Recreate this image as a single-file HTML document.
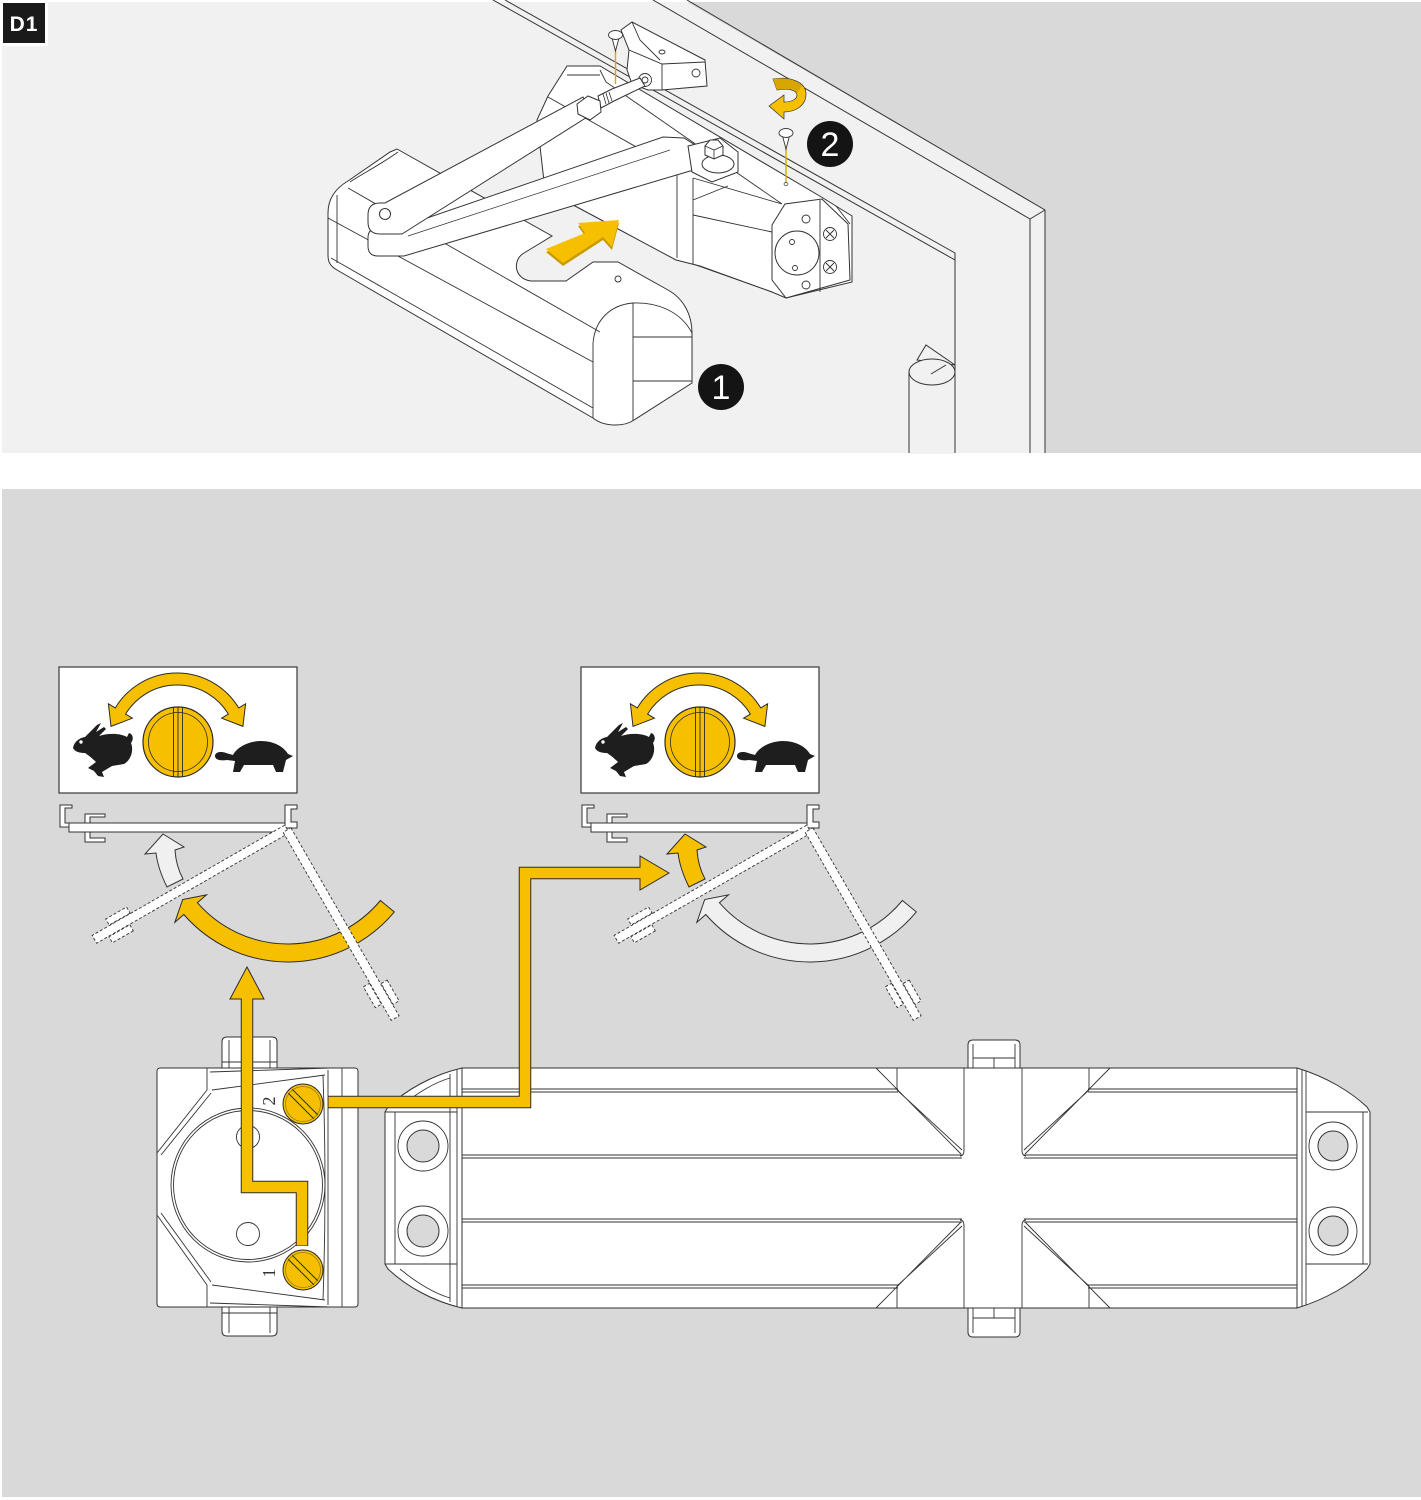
<!DOCTYPE html>
<html><head><meta charset="utf-8"><style>
html,body{margin:0;padding:0;background:#fff;}
svg{display:block;}
</style></head><body>
<svg width="1421" height="1500" viewBox="0 0 1421 1500" xmlns="http://www.w3.org/2000/svg">
<defs>
<g id="dtop">
  <rect x="59" y="667" width="238" height="126" fill="#fff" stroke="#3a3a3a" stroke-width="1.2"/>
  <path d="M108.4,703.8 L115.3,707.9 A72,72 0 0 1 238.7,707.9 L245.6,703.8 L242.9,726.4 L221.6,718.2 L228.4,714.1 A60,60 0 0 0 125.6,714.1 L132.4,718.2 L111,726.4 Z" fill="#f6c000" stroke="#2b2b2b" stroke-width="1"/>
  <circle cx="178" cy="742" r="35" fill="#f6c000" stroke="#2b2b2b" stroke-width="1.2"/>
  <circle cx="178" cy="742" r="29.5" fill="none" stroke="#2b2b2b" stroke-width="0.8"/>
  <path d="M173.5,707.5 L173.5,776.5 M182.5,707.5 L182.5,776.5 M178,707 L178,777" stroke="#2b2b2b" stroke-width="0.9" fill="none"/>
  <path d="M73,748 C74,742 79,738 85,737 L97,725 L101,723 L96,732 L104,727 L106,729 L99,736 C108,733 120,733 127,737 L129,733 C133,734 134,739 131,743 C134,750 131,760 124,764 L112,766 L102,772 L104,777 L98,776 L94,771 L88,768 L96,762 C92,758 88,755 85,753 C80,753 75,752 73,748 Z" fill="#1e1e1e"/>
  <circle cx="81" cy="742" r="1.7" fill="#fff"/>
  <path d="M215,756 C215,752 221,751 226,753 L233,755 C237,747 249,741 261,741 C274,741 284,747 288,754 L293,756 L286,760 L283,772 L276,772 L273,765 L244,765 L240,772 L233,772 L235,761 L227,760 C221,761 215,760 215,756 Z" fill="#1e1e1e"/>
  <polygon points="60,805 72,805 72,808 65,808 65,823 72,823 72,827 60,827" fill="#fff" stroke="#333" stroke-width="1"/>
  <polygon points="285,805 297,805 297,809 291,809 291,822 297,822 297,828 285,828" fill="#fff" stroke="#333" stroke-width="1"/>
  <polygon points="85,814 105,814 105,817 90,817 90,838 105,838 105,842 85,842" fill="#fff" stroke="#333" stroke-width="1"/>
  <rect x="69" y="823" width="216" height="9" fill="#fff" stroke="#333" stroke-width="1"/>
</g>
<g id="ddoors" fill="#fff" stroke="#333" stroke-width="0.9" stroke-dasharray="3 2">
  <g transform="translate(287,829) rotate(150.2)">
    <rect x="0" y="-4.5" width="222" height="9"/>
    <rect x="178" y="5" width="24" height="7"/>
    <rect x="184" y="-12" width="24" height="7"/>
  </g>
  <g transform="translate(287,830) rotate(60.1)">
    <rect x="0" y="-4.5" width="217" height="9"/>
    <rect x="174" y="5" width="24" height="7"/>
    <rect x="180" y="-12" width="24" height="7"/>
  </g>
</g>
</defs>

<rect width="1421" height="1500" fill="#fff"/>

<!-- ===== TOP PANEL ===== -->
<rect x="2" y="2" width="1419" height="451" fill="#f1f1f1"/>
<polygon points="687,2 1421,2 1421,453 1045,453 1045,210" fill="#d9d9d9"/>
<g fill="none" stroke="#333" stroke-width="1">
  <path d="M687,0 L1045,210 L1045,453 M653,0 L1030,219 L1030,453 M1030,219 L1045,210"/>
  <path d="M493,0 L955,260 M505,0 L955,253 L955,453"/>
</g>
<!-- hinge -->
<path d="M917,360 L926,345 L955,365 Z" fill="#f1f1f1" stroke="#333"/>
<rect x="909" y="372" width="46" height="82" fill="#f1f1f1"/>
<path d="M909,372 V453 M955,372 V453" stroke="#333" fill="none"/>
<ellipse cx="932" cy="372" rx="23" ry="13" fill="#f1f1f1" stroke="#333"/>
<path d="M931,374 L946,365" stroke="#333"/>

<!-- mounted closer -->
<path d="M537,120 L548,96 L567,66 L600,66 L823,198 L852,216 L852,282 L786,298 L772,292 L700,266 L676,260 L620,230 L545,190 Z" fill="#fff" stroke="#333"/>
<path d="M567,75 L600,75 M548,97 L677,170 M600,70 L606,82 L782,204 M677,170 V258 M693,178 V264 M693,178 L782,204 M693,215 L772,232 M693,264 L772,292 M693,200 L728,186" fill="none" stroke="#333" stroke-width="0.9"/>
<path d="M772,225 L785,204 L822,199 L848,224 L850,280 L786,298 L772,280 Z" fill="#fff" stroke="#333"/>
<circle cx="797" cy="253" r="22" fill="#fff" stroke="#333"/>
<g fill="none" stroke="#333" stroke-width="0.9">
  <circle cx="806" cy="219" r="4"/><circle cx="806" cy="285" r="4"/>
  <circle cx="792" cy="242" r="2.5"/><circle cx="795" cy="268" r="2.5"/>
  <path d="M820,200 L820,292 M836,206 L850,224"/>
  <circle cx="830" cy="234" r="6.5"/><circle cx="830" cy="267" r="6.5"/>
  <path d="M826,230 L834,238 M834,230 L826,238 M826,263 L834,271 M834,263 L826,271"/>
</g>
<!-- shoe bracket + rod -->
<path d="M621,30 L632,22 L705,60 L707,86 L662,90 L648,90 L632,84 L627,70 L629,50 Z" fill="#fff" stroke="#333"/>
<g fill="none" stroke="#333" stroke-width="0.9">
  <path d="M629,50 L662,64 L705,62 M662,64 L662,90 M632,22 L640,40 L660,60"/>
  <circle cx="645" cy="80" r="6.5"/><circle cx="645" cy="80" r="3"/>
  <ellipse cx="662" cy="52" rx="3" ry="2"/><circle cx="696" cy="73" r="4"/>
</g>
<path d="M598,96 L612,89 L640,78 L645,86 L614,101 L601,108 Z" fill="#fff" stroke="#333"/>
<path d="M603,94 L606,104 M606,93 L609,103 M609,92 L612,101" stroke="#333" stroke-width="0.8"/>

<!-- cover body -->
<path d="M397,149 L552,236 L524,253 C512,260 514,279 531,281 L566,281 L593,262 L618,262 L668,290 C684,299 692,315 692,333 L692,383 L634,420 C624,427 604,427 593,418 L337,270 C330,266 328,262 328,255 L328,213 C328,198 336,188 348,181 L390,152 Z" fill="#fff" stroke="#333" stroke-width="1"/>
<g fill="none" stroke="#333" stroke-width="0.9">
  <path d="M348,188 L600,332 M328,218 L593,362 M331,258 L593,408"/>
  <path d="M337,195 L337,263"/>
  <path d="M593,343 C595,320 610,305 633,303 C655,302 680,310 692,333"/>
  <path d="M593,343 L593,418 M633,303 L633,421 M633,337 L692,337 M633,381 L692,381"/>
  <path d="M398,152 C380,165 360,175 350,182"/>
  <circle cx="618" cy="279" r="3"/>
</g>

<!-- arms -->
<path d="M404,256 L690,171 L702,170 L700,148 L684,138 L663,137 L398,228 L378,228 Q368,228 368,238 L368,246 Q368,256 378,256 Z" fill="#fff" stroke="#333"/>
<path d="M402,234 L592,114 L583,97 L385,203 L380,203 Q368,203 368,215 L368,222 Q368,234 380,234 Z" fill="#fff" stroke="#333"/>
<circle cx="385" cy="214" r="5.5" fill="#fff" stroke="#333"/>
<path d="M408,236 L670,150" stroke="#333" stroke-width="0.7" fill="none"/>
<polygon points="577,104 588,96 600,101 601,112 590,120 578,114" fill="#fff" stroke="#333"/>
<!-- pivot -->
<path d="M688,146 L720,138 L738,152 L738,172 L712,182 L692,172 Z" fill="#fff" stroke="#333"/>
<ellipse cx="718" cy="164" rx="16" ry="9" fill="#fff" stroke="#333"/>
<polygon points="705,146 710,140 718,140 723,146 723,155 714,159 705,155" fill="#fff" stroke="#333"/>
<path d="M705,146 L714,150 L723,146 M714,150 L714,159" stroke="#333" stroke-width="0.8" fill="none"/>

<!-- screws -->
<line x1="615.5" y1="50" x2="615.5" y2="84" stroke="#e0a800" stroke-width="1.4"/>
<polygon points="612,38 619,38 615.5,51" fill="#fff" stroke="#333" stroke-width="0.9"/>
<ellipse cx="615.5" cy="35" rx="7" ry="4.5" fill="#fff" stroke="#333" stroke-width="0.9"/>
<line x1="786" y1="148" x2="786" y2="183" stroke="#e0a800" stroke-width="1.4"/>
<polygon points="782.5,136 789.5,136 786,149" fill="#fff" stroke="#333" stroke-width="0.9"/>
<ellipse cx="786" cy="133" rx="7" ry="4.5" fill="#fff" stroke="#333" stroke-width="0.9"/>
<ellipse cx="786" cy="184" rx="2" ry="1.5" fill="#fff" stroke="#333" stroke-width="0.7"/>

<!-- yellow arrows top -->
<polygon points="563,266 546,252 585,236 578,226 619,223 612,250 603,240" fill="#c99a00"/>
<polygon points="563,263 546,249 585,233 578,223 619,220 612,247 603,237" fill="#f6c000"/>
<path d="M773,79 C790,76 806,82 806,94 C806,106 795,112 784,112 L784,119 L769,106 L784,95 L784,102 C792,102 797,99 797,95 C797,90 788,88 777,90 Z" fill="#f6c000" stroke="#333" stroke-width="0.7"/>
<path d="M773,79 C785,77 797,80 802,86 L797,93 C794,89 786,88 777,90 Z" fill="#d8a600"/>

<!-- numbered circles -->
<circle cx="721" cy="387" r="23" fill="#141414"/>
<text x="721" y="399" text-anchor="middle" font-family="Liberation Sans, sans-serif" font-size="34" fill="#fff">1</text>
<circle cx="830" cy="144" r="23" fill="#141414"/>
<text x="830" y="156" text-anchor="middle" font-family="Liberation Sans, sans-serif" font-size="34" fill="#fff">2</text>

<!-- D1 label -->
<rect x="0" y="0" width="48" height="46" fill="#fff"/>
<rect x="3" y="3" width="42" height="40" fill="#1a1a1a"/>
<text x="24" y="31" text-anchor="middle" font-family="Liberation Sans, sans-serif" font-weight="bold" font-size="21" fill="#fff" letter-spacing="1">D1</text>

<!-- ===== BOTTOM PANEL ===== -->
<rect x="2" y="489" width="1419" height="1008" fill="#d9d9d9"/>

<!-- diagram 1 -->
<use href="#dtop"/>
<path d="M394.3,911.9 A138,138 0 0 1 183.8,914.5 L174.8,922.4 L182.7,899.5 L206.5,894.9 L197.4,902.7 A120,120 0 0 0 380.4,900.5 Z" fill="#f6c000" stroke="#2b2b2b" stroke-width="1"/>
<path d="M163,834 L184,847 L175,850 Q176,866 183,879 L167,887 Q158,869 156,853 L145,854 Z" fill="#f0f0f0" stroke="#333" stroke-width="1"/>
<use href="#ddoors"/>

<!-- diagram 2 -->
<use href="#dtop" transform="translate(522,0)"/>
<g transform="translate(522,0)">
  <path d="M394.3,911.9 A138,138 0 0 1 183.8,914.5 L174.8,922.4 L182.7,899.5 L206.5,894.9 L197.4,902.7 A120,120 0 0 0 380.4,900.5 Z" fill="#f0f0f0" stroke="#333" stroke-width="1"/>
  <path d="M163,834 L184,847 L175,850 Q176,866 183,879 L167,887 Q158,869 156,853 L145,854 Z" fill="#f6c000" stroke="#2b2b2b" stroke-width="1"/>
</g>
<use href="#ddoors" transform="translate(522,0)"/>

<!-- closer: left valve head -->
<g stroke="#333" stroke-width="1" fill="#fff">
  <path d="M222,1068 L222,1042 Q222,1037 227,1037 L272,1037 Q277,1037 277,1042 L277,1068 Z"/>
  <path d="M222,1307 L222,1331 Q222,1336 227,1336 L272,1336 Q277,1336 277,1331 L277,1307 Z"/>
  <rect x="157" y="1068" width="201" height="239" rx="3"/>
</g>
<g stroke="#333" stroke-width="0.9" fill="none">
  <path d="M229,1040 V1068 M270,1040 V1068 M222,1062 H277 M229,1307 V1333 M270,1307 V1333 M222,1313 H277"/>
  <path d="M157,1153 L207,1090 L207,1068 M161,1155 L211,1093 M157,1215 L207,1285 L207,1307 M161,1213 L211,1282"/>
  <path d="M210,1072 L330,1068 M212,1090 L325,1075 M212,1285 L325,1300 M210,1303 L330,1307"/>
  <path d="M323,1075 Q327,1187 323,1300 M328,1070 V1305 M342,1068 V1307"/>
  <circle cx="248" cy="1185" r="77"/>
  <circle cx="248" cy="1185" r="74.5"/>
  <circle cx="248" cy="1137" r="11.5"/>
  <circle cx="248" cy="1234" r="11.5"/>
</g>
<text transform="translate(275,1101) rotate(-90)" text-anchor="middle" font-family="Liberation Serif, serif" font-size="18" fill="#333">2</text>
<text transform="translate(275,1273) rotate(-90)" text-anchor="middle" font-family="Liberation Serif, serif" font-size="18" fill="#333">1</text>

<!-- closer main body -->
<g stroke="#333" stroke-width="1" fill="#fff">
  <path d="M968,1068 L968,1045 Q968,1040 973,1040 L1015,1040 Q1020,1040 1020,1045 L1020,1068 Z"/>
  <path d="M968,1308 L968,1332 Q968,1337 973,1337 L1015,1337 Q1020,1337 1020,1332 L1020,1308 Z"/>
  <path d="M462,1068 C432,1075 406,1090 388,1107 L385,1112 L385,1264 L388,1269 C406,1286 432,1301 462,1308 Z"/>
  <rect x="462" y="1068" width="835" height="240"/>
  <path d="M1297,1068 C1327,1077 1351,1092 1367,1107 L1370,1112 L1370,1264 L1367,1269 C1351,1284 1327,1299 1297,1308 Z"/>
</g>
<g stroke="#333" stroke-width="0.9" fill="none">
  <path d="M973,1044 V1068 M1015,1044 V1068 M973,1058 H1015 M994,1058 V1068 M973,1308 V1333 M1015,1308 V1333 M973,1318 H1015 M994,1308 V1318"/>
  <path d="M395,1112 V1264 M450,1074 V1302 M457,1070 V1306 M385,1112 H457 M385,1264 H457"/>
  <path d="M400,1107 C418,1092 436,1082 450,1078 M400,1269 C418,1284 436,1294 450,1298"/>
  <circle cx="423" cy="1146" r="25"/>
  <circle cx="423" cy="1231" r="25"/>
  <path d="M462,1089 H898 M1088,1089 H1297 M462,1092 H898 M1088,1092 H1297"/>
  <path d="M462,1155 H962 M1024,1155 H1297 M462,1158 H962 M1024,1158 H1297"/>
  <path d="M462,1219 H962 M1024,1219 H1297 M462,1222 H962 M1024,1222 H1297"/>
  <path d="M462,1285 H898 M1088,1285 H1297 M462,1288 H898 M1088,1288 H1297"/>
  <path d="M964,1068 V1150 Q964,1156 960,1156 M1022,1068 V1150 Q1022,1156 1026,1156 M964,1308 V1226 Q964,1220 960,1220 M1022,1308 V1226 Q1022,1220 1026,1220"/>
  <path d="M876,1068 L961,1154 M897,1090 L962,1150 M897,1068 V1090"/>
  <path d="M1110,1068 L1025,1154 M1089,1090 L1024,1150 M1089,1068 V1090"/>
  <path d="M876,1308 L961,1222 M897,1286 L962,1226 M897,1286 V1308"/>
  <path d="M1110,1308 L1025,1222 M1089,1286 L1024,1226 M1089,1286 V1308"/>
  <path d="M1302,1070 V1306 M1306,1071 V1305 M1306,1112 H1368 M1306,1264 H1368 M1363,1112 V1264"/>
  <circle cx="1333" cy="1146" r="24"/>
  <circle cx="1333" cy="1231" r="24"/>
</g>
<g fill="#d9d9d9" stroke="#333" stroke-width="1">
  <circle cx="423" cy="1146" r="16"/>
  <circle cx="423" cy="1231" r="16"/>
  <circle cx="1333" cy="1146" r="15"/>
  <circle cx="1333" cy="1231" r="15"/>
</g>

<!-- yellow connectors -->
<g fill="none" stroke-linejoin="miter" stroke-linecap="butt">
  <polyline points="247,999 247,1187 302,1187 302,1246" stroke="#2b2b2b" stroke-width="12.5"/>
  <polyline points="328,1102 525,1102 525,873 641,873" stroke="#2b2b2b" stroke-width="12.5"/>
</g>
<polygon points="247,967 230,999 264,999" fill="#f6c000" stroke="#2b2b2b" stroke-width="1"/>
<polygon points="669,873 640,856 640,890" fill="#f6c000" stroke="#2b2b2b" stroke-width="1"/>
<g fill="none" stroke-linejoin="miter" stroke-linecap="butt" stroke="#f6c000" stroke-width="10.5">
  <polyline points="247,996 247,1187 302,1187 302,1245.5"/>
  <polyline points="328.5,1102 525,1102 525,873 643,873"/>
</g>

<!-- screws on head -->
<g transform="translate(303,1104)">
  <circle r="20" fill="#f6c000" stroke="#2b2b2b" stroke-width="1"/>
  <circle r="17.5" fill="none" stroke="#9a7a00" stroke-width="0.8"/>
  <g transform="rotate(45)"><path d="M-18,-2.8 H18 M-18,2.8 H18" stroke="#2b2b2b" stroke-width="1"/></g>
</g>
<g transform="translate(303,1270)">
  <circle r="20" fill="#f6c000" stroke="#2b2b2b" stroke-width="1"/>
  <circle r="17.5" fill="none" stroke="#9a7a00" stroke-width="0.8"/>
  <g transform="rotate(45)"><path d="M-18,-2.8 H18 M-18,2.8 H18" stroke="#2b2b2b" stroke-width="1"/></g>
</g>
</svg>
</body></html>
